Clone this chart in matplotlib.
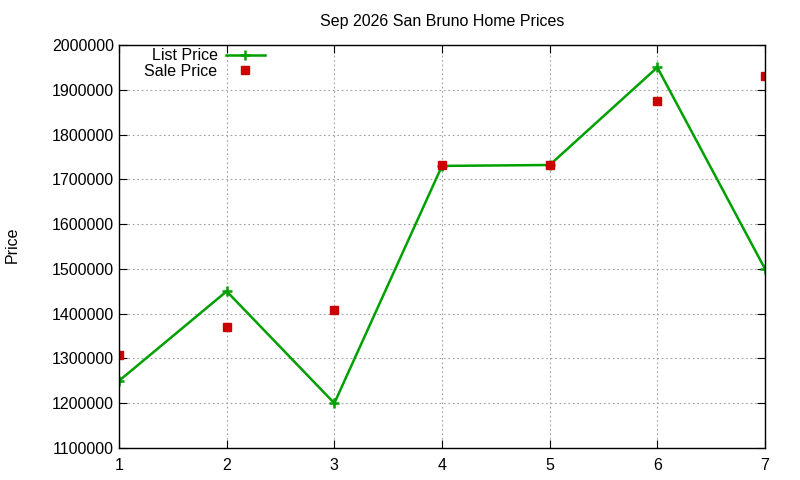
import matplotlib
matplotlib.use('Agg')
import matplotlib.pyplot as plt

plt.rcParams['font.family'] = ['Liberation Sans', 'DejaVu Sans']

months = [1, 2, 3, 4, 5, 6, 7]
list_price = [1250000, 1450000, 1200000, 1730000, 1732000, 1950000, 1500000]
sale_price = [1308000, 1370000, 1408000, 1732000, 1732000, 1876000, 1931000]

fig = plt.figure(figsize=(8, 4.8), dpi=100)
ax = fig.add_axes([119/800, 1-448/480, (765-119)/800, (448-45)/480])

ax.plot(months, list_price, color='#00a000', lw=1.8, marker='+', ms=7, mew=1.8,
        label='List Price')
ax.plot(months, sale_price, ls='none', marker='s', ms=5.8, color='#cc0000',
        label='Sale Price')

ax.set_xlim(1, 7)
ax.set_ylim(1100000, 2000000)
ax.set_xticks(months)
ax.set_yticks(range(1100000, 2000001, 100000))
ax.ticklabel_format(axis='y', style='plain', useOffset=False)
ax.grid(True, color='#a0a0a0', ls=(0, (1.5, 2.5)), lw=0.8)
ax.tick_params(direction='in', top=True, right=True, labelsize=11.5, length=6,
               color='black')
ax.tick_params(axis='x', pad=7)
for s in ax.spines.values():
    s.set_linewidth(1.0)

ax.set_title('Sep 2026 San Bruno Home Prices', fontsize=11.5, pad=14)
fig.text(12/800, 1-245/480, 'Price', rotation=90, fontsize=11.5, va='center', ha='center')

ax.legend(loc='upper left', bbox_to_anchor=(0.022, 1.02), frameon=False,
          markerfirst=False, fontsize=11.5, handlelength=2.5, labelspacing=0.05,
          borderaxespad=0.3, handletextpad=0.5)

fig.savefig('out.png', dpi=100)
